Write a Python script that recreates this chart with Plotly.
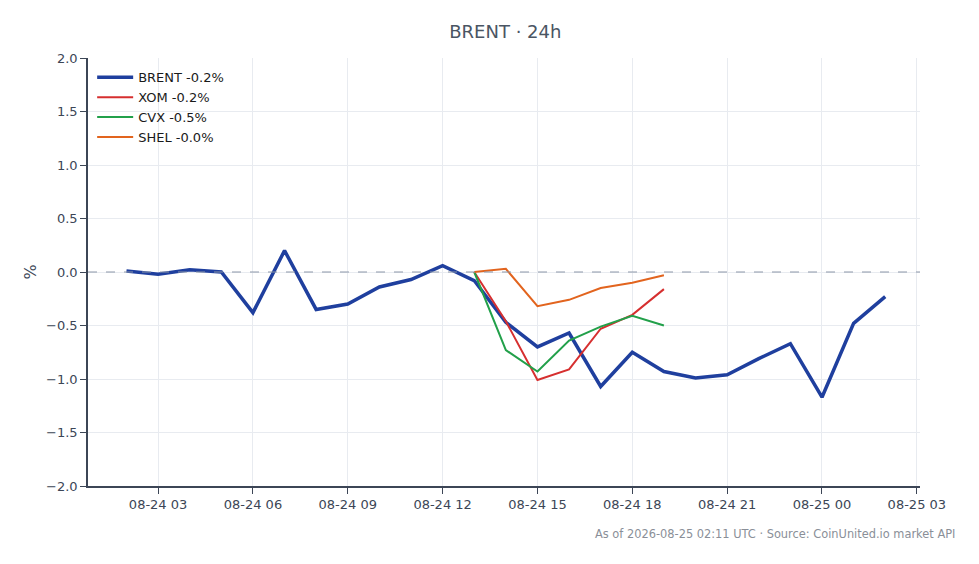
import plotly.graph_objects as go

# hourly timestamps (UTC)
brent_times = [
    "2026-08-24 02:00", "2026-08-24 03:00", "2026-08-24 04:00", "2026-08-24 05:00",
    "2026-08-24 06:00", "2026-08-24 07:00", "2026-08-24 08:00", "2026-08-24 09:00",
    "2026-08-24 10:00", "2026-08-24 11:00", "2026-08-24 12:00", "2026-08-24 13:00",
    "2026-08-24 14:00", "2026-08-24 15:00", "2026-08-24 16:00", "2026-08-24 17:00",
    "2026-08-24 18:00", "2026-08-24 19:00", "2026-08-24 20:00", "2026-08-24 21:00",
    "2026-08-24 22:00", "2026-08-24 23:00", "2026-08-25 00:00", "2026-08-25 01:00",
    "2026-08-25 02:00",
]
brent_pct = [0.01, -0.02, 0.02, 0.0, -0.38, 0.20, -0.35, -0.30, -0.14, -0.07,
             0.06, -0.08, -0.47, -0.70, -0.57, -1.07, -0.75, -0.93, -0.99, -0.96,
             -0.81, -0.67, -1.17, -0.48, -0.23]

stock_times = [
    "2026-08-24 13:00", "2026-08-24 14:00", "2026-08-24 15:00", "2026-08-24 16:00",
    "2026-08-24 17:00", "2026-08-24 18:00", "2026-08-24 19:00",
]
xom_pct = [0.0, -0.46, -1.01, -0.91, -0.53, -0.40, -0.16]
cvx_pct = [0.0, -0.73, -0.93, -0.64, -0.51, -0.41, -0.50]
shel_pct = [0.0, 0.03, -0.32, -0.26, -0.15, -0.10, -0.03]

tick_vals = ["2026-08-24 03:00", "2026-08-24 06:00", "2026-08-24 09:00",
             "2026-08-24 12:00", "2026-08-24 15:00", "2026-08-24 18:00",
             "2026-08-24 21:00", "2026-08-25 00:00", "2026-08-25 03:00"]

fig = go.Figure()
fig.add_trace(go.Scatter(x=brent_times, y=brent_pct, mode="lines",
                         name="BRENT -0.2%",
                         line=dict(color="#1f3f9e", width=3.5)))
fig.add_trace(go.Scatter(x=stock_times, y=xom_pct, mode="lines",
                         name="XOM -0.2%",
                         line=dict(color="#d62f2f", width=2)))
fig.add_trace(go.Scatter(x=stock_times, y=cvx_pct, mode="lines",
                         name="CVX -0.5%",
                         line=dict(color="#22a04a", width=2)))
fig.add_trace(go.Scatter(x=stock_times, y=shel_pct, mode="lines",
                         name="SHEL -0.0%",
                         line=dict(color="#e2641e", width=2)))

# zero reference line
fig.add_hline(y=0, line=dict(color="#8c97a8", width=1, dash="dash"))

fig.update_layout(
    width=979, height=564,
    paper_bgcolor="white", plot_bgcolor="white",
    font=dict(family="DejaVu Sans", size=13, color="#3c4656"),
    title=dict(text="BRENT · 24h", x=0.508, xanchor="center", y=0.97,
               font=dict(size=18, color="#4a5563")),
    margin=dict(l=80, r=67, t=50, b=86),
    showlegend=True,
    legend=dict(x=0.005, y=0.99, xanchor="left", yanchor="top", itemwidth=36,
                bgcolor="rgba(255,255,255,0)", font=dict(size=13, color="#1a1a1a")),
    xaxis=dict(
        range=["2026-08-24 00:47", "2026-08-25 03:06"],
        tickvals=tick_vals, tickformat="%m-%d %H",
        showgrid=True, gridcolor="#e8ebf0",
        showline=True, linecolor="#3c4656", linewidth=1.5,
        ticks="outside", ticklen=6, tickcolor="#3c4656",
        zeroline=False,
    ),
    yaxis=dict(
        range=[-2.0, 2.0], dtick=0.5, tickformat=".1f",
        title=dict(text="%", standoff=5),
        showgrid=True, gridcolor="#e8ebf0",
        showline=True, linecolor="#3c4656", linewidth=1.5,
        ticks="outside", ticklen=6, tickcolor="#3c4656",
        zeroline=False,
    ),
)

fig.add_annotation(
    text="As of 2026-08-25 02:11 UTC · Source: CoinUnited.io market API",
    xref="paper", yref="paper", x=1.044, y=-0.09,
    xanchor="right", yanchor="top", showarrow=False,
    font=dict(size=11.4, color="#8a8f98"),
)

fig.write_html("out.html")
